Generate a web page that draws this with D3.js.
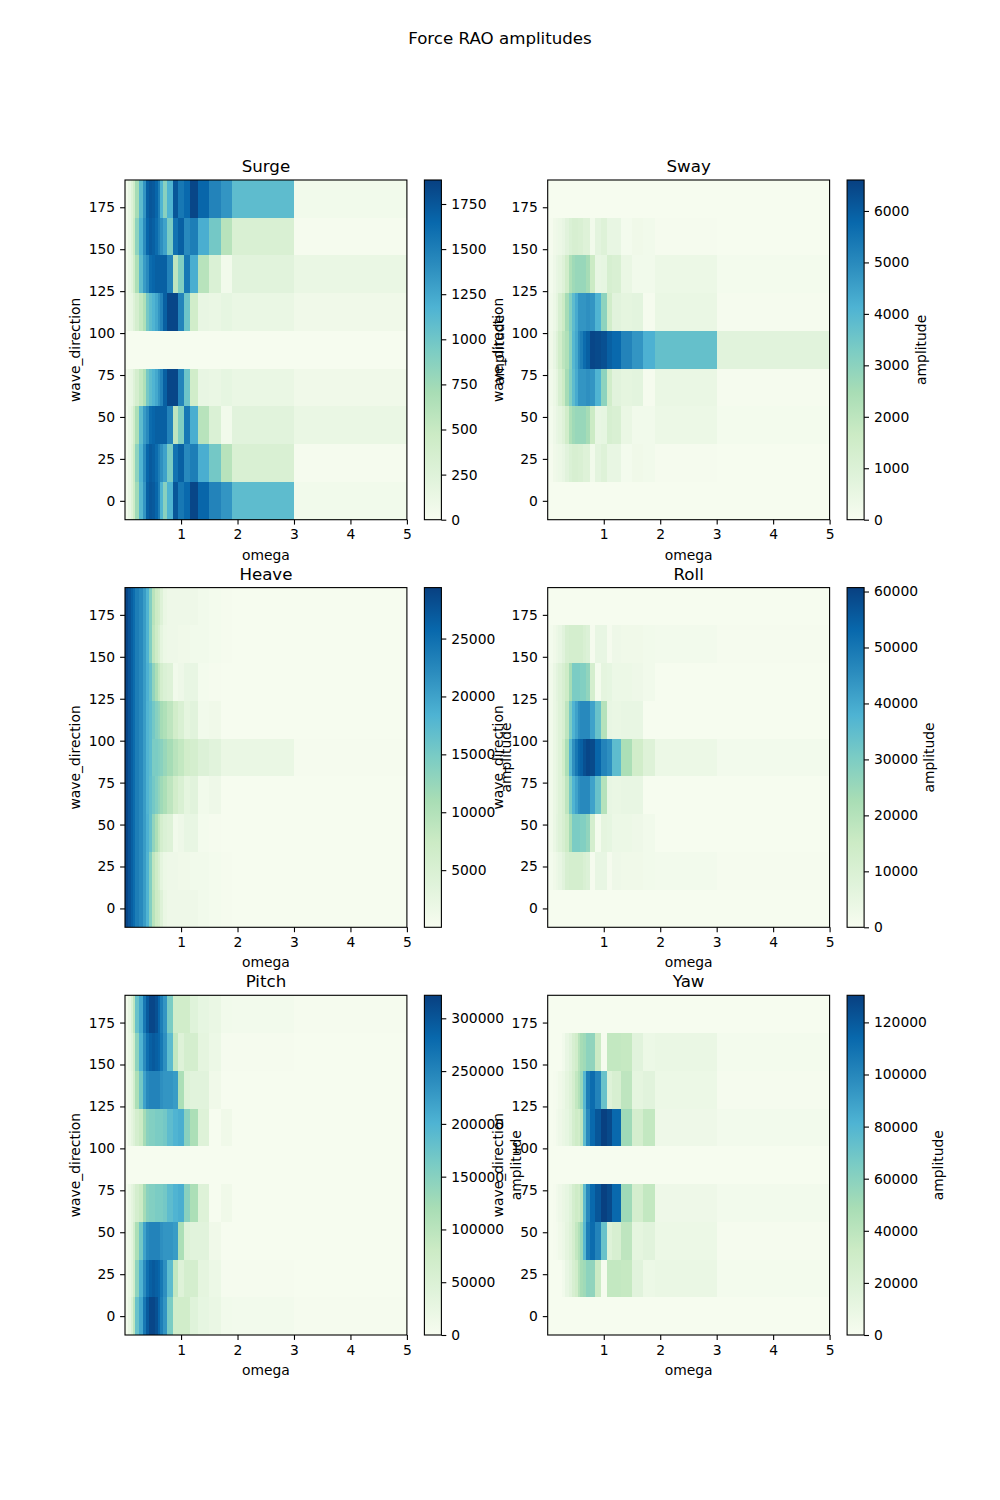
<!DOCTYPE html>
<html>
<head>
<meta charset="utf-8">
<script src="https://cdn.jsdelivr.net/npm/d3@7"></script>
<style>
  html, body { margin: 0; background: #fff; }
  svg text { font-family: "DejaVu Sans", sans-serif; fill: #000; }
</style>
</head>
<body>
<svg id="fig" width="1000" height="1500"></svg>
<script>
// Wave headings (rows) and frequency cell boundaries (columns).
const waveDirections = [0, 22.5, 45, 67.5, 90, 112.5, 135, 157.5, 180];
const omegaEdges = [0.007, 0.055, 0.105, 0.15, 0.19, 0.26, 0.32, 0.378, 0.437, 0.49, 0.54, 0.585, 0.63, 0.685, 0.755, 0.85, 0.95, 1.05, 1.15, 1.3, 1.5, 1.7, 1.9, 3, 5];

// Amplitudes per heading, percent of each component's peak.
const surgePct = [
  [3, 8, 14, 24, 40, 60, 72, 90, 93, 92, 88, 80, 62, 46, 62, 93, 82, 87, 98, 88, 78, 72, 58, 3],
  [3, 8, 14, 25, 45, 62, 75, 88, 92, 90, 86, 80, 74, 68, 50, 84, 90, 76, 80, 64, 52, 32, 17, 1],
  [3, 8, 12, 22, 36, 58, 70, 76, 86, 88, 90, 90, 90, 90, 78, 30, 48, 82, 64, 32, 16, 3, 12, 7],
  [4, 7, 8, 14, 20, 28, 35, 52, 58, 62, 66, 72, 78, 90, 98, 98, 78, 54, 22, 8, 7, 9, 7, 4],
  [0.3, 0.3, 0.3, 0.3, 0.3, 0.3, 0.3, 0.3, 0.3, 0.3, 0.3, 0.3, 0.3, 0.3, 0.3, 0.3, 0.3, 0.3, 0.3, 0.3, 0.3, 0.3, 0.3, 0.3],
  [4, 7, 8, 14, 20, 28, 35, 52, 58, 62, 66, 72, 78, 90, 98, 98, 78, 54, 22, 8, 7, 9, 7, 4],
  [3, 8, 12, 22, 36, 58, 70, 76, 86, 88, 90, 90, 90, 90, 78, 30, 48, 82, 64, 32, 16, 3, 12, 7],
  [3, 8, 14, 25, 45, 62, 75, 88, 92, 90, 86, 80, 74, 68, 50, 84, 90, 76, 80, 64, 52, 32, 17, 1],
  [3, 8, 14, 22, 38, 58, 72, 90, 93, 92, 88, 80, 62, 46, 62, 93, 82, 87, 98, 88, 78, 72, 58, 3]
];
const swayPct = [
  [0.4, 0.4, 0.4, 0.4, 0.4, 0.4, 0.4, 0.4, 0.4, 0.4, 0.4, 0.4, 0.4, 0.4, 0.4, 0.4, 0.4, 0.4, 0.4, 0.4, 0.4, 0.4, 0.4, 0.4],
  [0.5, 1, 4, 5, 6, 8, 12, 16, 18, 18, 17, 17, 14, 14, 3, 11, 14, 8, 8, 2, 4, 3, 1, 0.5],
  [1, 2, 5, 8, 10, 14, 22, 35, 40, 42, 42, 42, 42, 38, 25, 8, 9, 19, 17, 7, 3, 3, 6, 2],
  [1, 3, 6, 10, 18, 25, 38, 48, 58, 65, 72, 72, 72, 74, 72, 62, 45, 22, 12, 10, 11, 1, 7, 1],
  [3, 4, 8, 14, 22, 30, 35, 46, 60, 66, 75, 80, 86, 90, 98, 97, 95, 90, 87, 78, 72, 63, 56, 12],
  [1, 3, 6, 10, 18, 25, 38, 48, 58, 65, 72, 72, 72, 74, 72, 62, 45, 22, 12, 10, 11, 1, 7, 1],
  [1, 2, 5, 8, 10, 14, 22, 35, 40, 42, 42, 42, 42, 38, 25, 8, 9, 19, 17, 7, 3, 3, 6, 2],
  [0.5, 1, 4, 5, 6, 8, 12, 16, 18, 18, 17, 17, 14, 14, 3, 11, 14, 8, 8, 2, 4, 3, 1, 0.5],
  [0.4, 0.4, 0.4, 0.4, 0.4, 0.4, 0.4, 0.4, 0.4, 0.4, 0.4, 0.4, 0.4, 0.4, 0.4, 0.4, 0.4, 0.4, 0.4, 0.4, 0.4, 0.4, 0.4, 0.4]
];
const heavePct = [
  [98, 94, 90, 86, 80, 76, 70, 62, 48, 32, 25, 22, 14, 7, 5, 5, 5, 5, 5, 3, 2, 1, 0.5, 0.5],
  [98, 94, 90, 86, 80, 76, 70, 62, 48, 30, 24, 18, 10, 6, 5, 5, 4, 4, 3, 3, 2, 1, 0.5, 0.5],
  [98, 94, 90, 86, 80, 76, 70, 63, 56, 44, 36, 28, 20, 16, 14, 3, 5, 8, 8, 2, 1, 0.5, 0.3, 0.3],
  [98, 94, 90, 86, 80, 76, 70, 62, 57, 52, 48, 44, 40, 36, 30, 22, 17, 10, 12, 3, 5, 0.5, 0.5, 0.3],
  [98, 94, 90, 86, 80, 76, 70, 62, 58, 50, 50, 48, 46, 42, 38, 32, 28, 22, 20, 15, 12, 7, 7, 1],
  [98, 94, 90, 86, 80, 76, 70, 62, 58, 52, 47, 44, 38, 35, 30, 22, 17, 10, 12, 3, 4, 0.5, 0.5, 0.3],
  [98, 94, 90, 86, 80, 76, 70, 63, 56, 44, 36, 28, 20, 16, 14, 3, 5, 8, 8, 2, 1, 0.5, 0.3, 0.3],
  [98, 94, 90, 86, 80, 76, 70, 62, 48, 30, 24, 18, 10, 6, 5, 5, 4, 4, 3, 3, 2, 1, 0.5, 0.5],
  [98, 94, 90, 86, 80, 76, 70, 62, 48, 32, 25, 22, 14, 7, 5, 5, 5, 5, 5, 3, 2, 1, 0.5, 0.5]
];
const rollPct = [
  [0.5, 0.5, 0.5, 0.5, 0.5, 0.5, 0.5, 0.5, 0.5, 0.5, 0.5, 0.5, 0.5, 0.5, 0.5, 0.5, 0.5, 0.5, 0.5, 0.5, 0.5, 0.5, 0.5, 0.5],
  [0.5, 2, 4, 6, 8, 12, 18, 20, 20, 20, 20, 20, 17, 15, 1, 8, 8, 1, 5, 4, 4, 3, 2.5, 1],
  [1, 3, 7, 11, 14, 18, 24, 38, 50, 50, 50, 48, 48, 44, 20, 2, 10, 9, 6, 6, 5, 3, 0.5, 0.5],
  [1, 3, 7, 10, 14, 18, 30, 50, 62, 68, 74, 76, 76, 76, 68, 55, 33, 8, 7, 8, 8, 0.5, 0.5, 0.5],
  [1, 3, 7, 10, 14, 22, 36, 60, 74, 82, 88, 90, 95, 98, 97, 88, 78, 74, 58, 36, 22, 14, 6, 2.5],
  [1, 3, 7, 10, 14, 18, 30, 50, 62, 68, 74, 76, 76, 76, 68, 55, 33, 8, 7, 8, 8, 0.5, 0.5, 0.5],
  [1, 3, 7, 11, 14, 18, 24, 38, 50, 50, 50, 48, 48, 44, 20, 2, 10, 9, 6, 6, 5, 3, 0.5, 0.5],
  [0.5, 2, 4, 6, 8, 12, 18, 20, 20, 20, 20, 20, 17, 15, 1, 8, 8, 1, 5, 4, 4, 3, 2.5, 1],
  [0.5, 0.5, 0.5, 0.5, 0.5, 0.5, 0.5, 0.5, 0.5, 0.5, 0.5, 0.5, 0.5, 0.5, 0.5, 0.5, 0.5, 0.5, 0.5, 0.5, 0.5, 0.5, 0.5, 0.5]
];
const pitchPct = [
  [3, 8, 16, 30, 55, 66, 82, 92, 98, 98, 95, 88, 80, 72, 50, 22, 22, 22, 13, 9, 7, 3, 2.5, 1],
  [3, 7, 12, 22, 45, 62, 75, 85, 90, 92, 90, 88, 82, 74, 58, 28, 14, 20, 20, 10, 6, 1, 1, 0.5],
  [3, 6, 10, 20, 36, 52, 68, 76, 78, 78, 78, 78, 74, 72, 72, 70, 36, 14, 12, 12, 4, 0.3, 0.5, 0.3],
  [2, 6, 10, 14, 20, 25, 38, 46, 48, 48, 50, 50, 50, 52, 58, 62, 64, 46, 36, 14, 0.5, 4, 0.5, 0.3],
  [0.3, 0.3, 0.3, 0.3, 0.3, 0.3, 0.3, 0.3, 0.3, 0.3, 0.3, 0.3, 0.3, 0.3, 0.3, 0.3, 0.3, 0.3, 0.3, 0.3, 0.3, 0.3, 0.3, 0.3],
  [2, 6, 10, 14, 20, 25, 38, 46, 48, 48, 50, 50, 50, 52, 58, 62, 64, 46, 36, 14, 0.5, 4, 0.5, 0.3],
  [3, 6, 10, 20, 36, 52, 68, 76, 78, 78, 78, 78, 74, 72, 72, 70, 36, 14, 12, 12, 4, 0.3, 0.5, 0.3],
  [3, 7, 12, 22, 45, 62, 75, 85, 90, 92, 90, 88, 82, 74, 58, 28, 14, 20, 20, 10, 6, 1, 1, 0.5],
  [3, 8, 16, 30, 55, 66, 82, 92, 98, 98, 95, 88, 80, 72, 50, 22, 22, 22, 13, 9, 7, 3, 2.5, 1]
];
const yawPct = [
  [0.5, 0.5, 0.5, 0.5, 0.5, 0.5, 0.5, 0.5, 0.5, 0.5, 0.5, 0.5, 0.5, 0.5, 0.5, 0.5, 0.5, 0.5, 0.5, 0.5, 0.5, 0.5, 0.5, 0.5],
  [0.3, 0.5, 0.5, 0.5, 0.5, 3, 8, 12, 18, 22, 32, 38, 40, 45, 44, 25, 1, 28, 28, 27, 12, 6, 7, 2],
  [0.5, 0.5, 1, 2, 4, 6, 10, 14, 20, 28, 34, 42, 60, 80, 86, 78, 55, 14, 18, 30, 10, 12, 6, 1],
  [0.3, 0.5, 1, 3, 5, 7, 9, 13, 20, 24, 22, 30, 58, 76, 87, 93, 100, 97, 87, 40, 20, 28, 5, 2.5],
  [0.5, 0.5, 0.5, 0.5, 0.5, 0.5, 0.5, 0.5, 0.5, 0.5, 0.5, 0.5, 0.5, 0.5, 0.5, 0.5, 0.5, 0.5, 0.5, 0.5, 0.5, 0.5, 0.5, 0.5],
  [0.3, 0.5, 1, 3, 5, 7, 9, 13, 20, 24, 22, 30, 58, 76, 87, 93, 100, 97, 87, 40, 20, 28, 5, 2.5],
  [0.5, 0.5, 1, 2, 4, 6, 10, 14, 20, 28, 34, 42, 60, 80, 86, 78, 55, 14, 18, 30, 10, 12, 6, 1],
  [0.3, 0.5, 0.5, 0.5, 0.5, 3, 8, 12, 18, 22, 32, 38, 40, 45, 44, 25, 1, 28, 28, 27, 12, 6, 7, 2],
  [0.5, 0.5, 0.5, 0.5, 0.5, 0.5, 0.5, 0.5, 0.5, 0.5, 0.5, 0.5, 0.5, 0.5, 0.5, 0.5, 0.5, 0.5, 0.5, 0.5, 0.5, 0.5, 0.5, 0.5]
];

// Colour bar ranges and tick labels.
const surgeTicks = [0, 250, 500, 750, 1000, 1250, 1500, 1750];
const swayTicks = [0, 1000, 2000, 3000, 4000, 5000, 6000];
const heaveTicks = [5000, 10000, 15000, 20000, 25000];
const rollTicks = [0, 10000, 20000, 30000, 40000, 50000, 60000];
const pitchTicks = [0, 50000, 100000, 150000, 200000, 250000, 300000];
const yawTicks = [0, 20000, 40000, 60000, 80000, 100000, 120000];
const directionTicks = [0, 25, 50, 75, 100, 125, 150, 175];
const omegaTicks = [1, 2, 3, 4, 5];

const panels = [
  { title: "Surge", pct: surgePct, ticks: surgeTicks, lo: 0, hi: 1883, col: 0, row: 0, labelX: 499 },
  { title: "Sway", pct: swayPct, ticks: swayTicks, lo: 0, hi: 6602, col: 1, row: 0, labelX: 921 },
  { title: "Heave", pct: heavePct, ticks: heaveTicks, lo: 65, hi: 29400, col: 0, row: 1, labelX: 506 },
  { title: "Roll", pct: rollPct, ticks: rollTicks, lo: 0, hi: 60700, col: 1, row: 1, labelX: 929 },
  { title: "Pitch", pct: pitchPct, ticks: pitchTicks, lo: 0, hi: 321800, col: 0, row: 2, labelX: 516 },
  { title: "Yaw", pct: yawPct, ticks: yawTicks, lo: 0, hi: 130400, col: 1, row: 2, labelX: 938 }
];

// Subplot grid in pixels.
const columnX = [125, 547.7];
const rowY = [180, 587.6, 995.3];
const plotW = 281.9, plotH = 339.7;
const barOffset = 299.4, barW = 17;
const lineW = 1.1, tickLen = 4.9, tickGap = 4.9;
const fontPx = 13.89, titlePx = 16.67;

const svg = d3.select("#fig");
const ramp = d3.schemeGnBu[9];

// One linear gradient shared by all colour bars.
const grad = svg.append("defs").append("linearGradient")
  .attr("id", "gnbu").attr("x1", 0).attr("y1", 1).attr("x2", 0).attr("y2", 0);
grad.selectAll("stop").data(ramp).join("stop")
  .attr("offset", (d, i) => i / (ramp.length - 1))
  .attr("stop-color", d => d);

svg.append("text")
  .attr("x", 500).attr("y", 38).attr("dy", "0.35em")
  .attr("text-anchor", "middle")
  .style("font-size", titlePx + "px")
  .text("Force RAO amplitudes");

function styleAxis(g) {
  g.selectAll("text").style("font-size", fontPx + "px").attr("fill", "#000");
  g.selectAll(".tick line").attr("stroke", "#000").attr("stroke-width", lineW);
  g.select(".domain").remove();
}

panels.forEach(p => {
  const x0 = columnX[p.col], y0 = rowY[p.row];
  const g = svg.append("g").attr("transform", `translate(${x0},${y0})`);

  const xScale = d3.scaleLinear().domain([omegaEdges[0], 5]).range([0, plotW]);
  const yScale = d3.scaleLinear().domain([-11.25, 191.25]).range([plotH, 0]);
  const colour = d3.scaleLinear()
    .domain(ramp.map((d, i) => p.lo + (p.hi - p.lo) * i / (ramp.length - 1)))
    .range(ramp)
    .clamp(true);

  const cells = p.pct.flatMap((row, r) => row.map((v, c) => ({
    amplitude: p.lo + (p.hi - p.lo) * v / 100,
    c,
    dir: waveDirections[r]
  })));

  g.selectAll("rect.cell").data(cells).join("rect")
    .attr("class", "cell")
    .attr("x", d => xScale(omegaEdges[d.c]))
    .attr("width", d => xScale(omegaEdges[d.c + 1]) - xScale(omegaEdges[d.c]))
    .attr("y", d => yScale(d.dir + 11.25))
    .attr("height", d => yScale(d.dir - 11.25) - yScale(d.dir + 11.25))
    .attr("fill", d => colour(d.amplitude))
    .attr("shape-rendering", "crispEdges");

  g.append("g").attr("transform", `translate(0,${plotH})`)
    .call(d3.axisBottom(xScale).tickValues(omegaTicks).tickFormat(d3.format("d"))
      .tickSize(tickLen).tickPadding(tickGap))
    .call(styleAxis);
  g.append("g")
    .call(d3.axisLeft(yScale).tickValues(directionTicks).tickFormat(d3.format("d"))
      .tickSize(tickLen).tickPadding(tickGap))
    .call(styleAxis);

  g.append("rect").attr("width", plotW).attr("height", plotH)
    .attr("fill", "none").attr("stroke", "#000").attr("stroke-width", lineW);

  g.append("text").attr("x", plotW / 2).attr("y", -8)
    .attr("text-anchor", "middle").style("font-size", titlePx + "px").text(p.title);
  g.append("text").attr("x", plotW / 2).attr("y", plotH + 40)
    .attr("text-anchor", "middle").style("font-size", fontPx + "px").text("omega");
  g.append("text")
    .attr("transform", `translate(-50,${plotH / 2}) rotate(-90)`)
    .attr("dy", "0.35em").attr("text-anchor", "middle")
    .style("font-size", fontPx + "px").text("wave_direction");

  // Colour bar with its own scale and label.
  const bar = g.append("g").attr("transform", `translate(${barOffset},0)`);
  const barScale = d3.scaleLinear().domain([p.lo, p.hi]).range([plotH, 0]);
  bar.append("rect").attr("width", barW).attr("height", plotH)
    .attr("fill", "url(#gnbu)").attr("stroke", "#000").attr("stroke-width", lineW);
  bar.append("g").attr("transform", `translate(${barW},0)`)
    .call(d3.axisRight(barScale).tickValues(p.ticks).tickFormat(d3.format("d"))
      .tickSize(tickLen).tickPadding(tickGap))
    .call(styleAxis);
  g.append("text")
    .attr("transform", `translate(${p.labelX - x0},${plotH / 2}) rotate(-90)`)
    .attr("dy", "0.35em").attr("text-anchor", "middle")
    .style("font-size", fontPx + "px").text("amplitude");
});
</script>
</body>
</html>
